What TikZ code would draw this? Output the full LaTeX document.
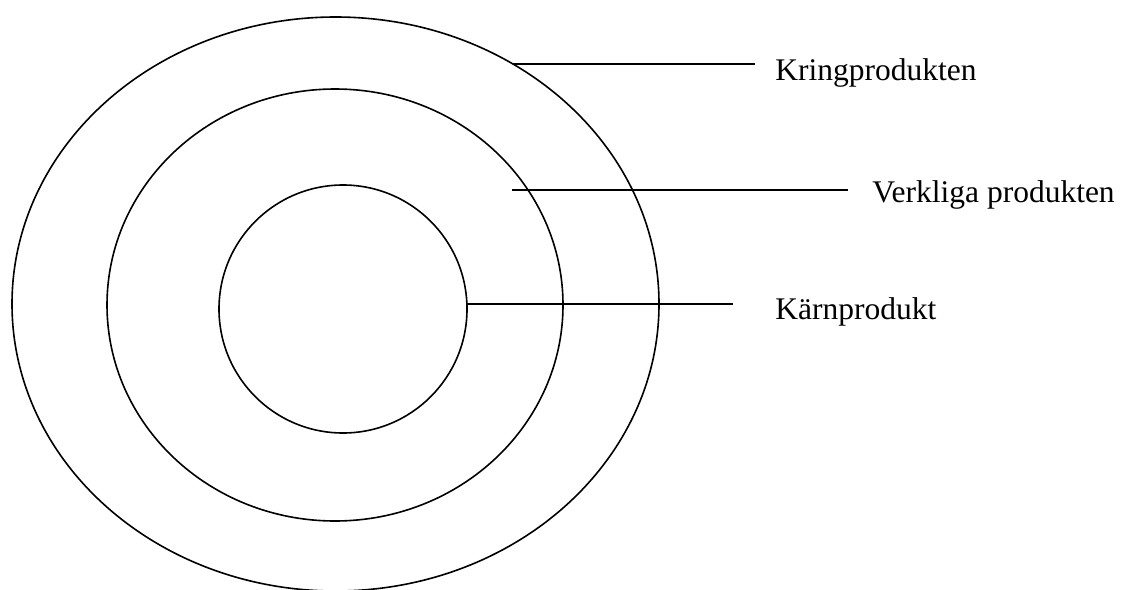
\documentclass[tikz,border=0pt]{standalone}
\usepackage{fontspec}
\setmainfont{Liberation Serif}
\usetikzlibrary{shapes.geometric}
\begin{document}
\begin{tikzpicture}[x=0.5pt,y=-0.5pt,
  ring/.style={draw, ellipse, line width=0.8pt, inner sep=0pt, outer sep=0pt},
  lead/.style={draw, line width=0.8pt},
  lbl/.style={anchor=base west, inner sep=0pt, font=\fontsize{15.75pt}{18pt}\selectfont}]
\useasboundingbox (0,0) rectangle (1123,589);
\node[ring, minimum width=323.5pt, minimum height=287pt] (outer) at (335.5,304) {};
\node[ring, minimum width=228pt, minimum height=216pt] (middle) at (335,305) {};
\node[ring, minimum width=124pt, minimum height=124pt] (inner) at (343,309) {};
\node[lbl] (kring) at (775,80) {Kringprodukten};
\node[lbl] (verk) at (872,202) {Verkliga produkten};
\node[lbl] (karn) at (775,319) {Kärnprodukt};
\coordinate (k1) at (513,64);
\coordinate (k2) at (755,64);
\coordinate (v1) at (512,190);
\coordinate (v2) at (848,190);
\coordinate (c1) at (467,304);
\coordinate (c2) at (733,304);
\draw[lead] (k1) -- (k2);
\draw[lead] (v1) -- (v2);
\draw[lead] (c1) -- (c2);
\end{tikzpicture}
\end{document}
